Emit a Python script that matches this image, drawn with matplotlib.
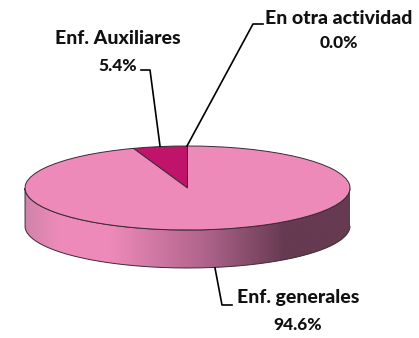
import numpy as np
import matplotlib
matplotlib.use("Agg")
import matplotlib.pyplot as plt
from matplotlib.colors import LinearSegmentedColormap
from matplotlib.patches import PathPatch
from matplotlib.path import Path

# data
categories = ['Enf. Auxiliares', 'Enf. generales', 'En otra actividad']
values = [5.4, 94.6, 0.0]
labels = ['5.4%', '94.6%', '0.0%']
colors = ['#C0146A', '#EE8ABA', '#F4B6D4']

W, H = 419, 338
CX, CY, RX, RY, DEPTH = 187.5, 188, 162.5, 42, 38

fig = plt.figure(figsize=(W / 100, H / 100), dpi=100)

# background axes in pixel coordinates
bg = fig.add_axes([0, 0, 1, 1])
bg.set_xlim(0, W)
bg.set_ylim(H, 0)
bg.axis('off')

# side of the disc with the shading
t = np.linspace(0, np.pi, 200)
top_x = CX + RX * np.cos(t)
top_y = CY + RY * np.sin(t)
xs = np.r_[top_x, top_x[::-1]]
ys = np.r_[top_y, top_y[::-1] + DEPTH]
side = Path(np.c_[xs, ys])
patch = PathPatch(side, fc='none', ec='#3A2A32', lw=0.7, zorder=3)
bg.add_patch(patch)

shade = LinearSegmentedColormap.from_list('shade', [
    (0.0, '#D083A8'), (0.10, '#EE8ABA'), (0.26, '#EE8ABA'),
    (0.55, '#B0648C'), (0.80, '#663A50'), (1.0, '#663A50')])
img = bg.imshow(np.linspace(0, 1, 256)[None, :], cmap=shade, aspect='auto',
                extent=[CX - RX, CX + RX, CY + RY + DEPTH, CY], zorder=2)
img.set_clip_path(PathPatch(side, transform=bg.transData))
bg.set_xlim(0, W)
bg.set_ylim(H, 0)

# top of the disc
ax = fig.add_axes([(CX - RX) / W, 1 - (CY + RY) / H, 2 * RX / W, 2 * RY / H])
ax.pie(values, colors=colors, startangle=90, counterclock=True, radius=1,
       wedgeprops={'edgecolor': '#3A2A32', 'linewidth': 0.7})
ax.set_aspect('auto')
ax.set_xlim(-1, 1)
ax.set_ylim(-1, 1)

# leader lines
bg2 = fig.add_axes([0, 0, 1, 1])
bg2.set_xlim(0, W)
bg2.set_ylim(H, 0)
bg2.axis('off')
bg2.patch.set_alpha(0)
bg2.plot([160, 150, 141], [146, 70, 70], color='black', lw=1.2)
bg2.plot([187, 253, 263], [146, 24, 24], color='black', lw=1.2)
bg2.plot([215, 222, 232], [268, 305, 305], color='black', lw=1.2)

font = dict(family='Lato', weight='black', size=14, color='#111111',
            ha='center', va='center')
pct = {**font, 'size': 12.5}
bg2.text(118, 39, categories[0], **font)
bg2.text(118, 66, labels[0], **pct)
bg2.text(298, 298, categories[1], **font)
bg2.text(298, 325, labels[1], **pct)
bg2.text(339, 18, categories[2], **font)
bg2.text(339, 43, labels[2], **pct)

fig.savefig('out.png', dpi=100)
